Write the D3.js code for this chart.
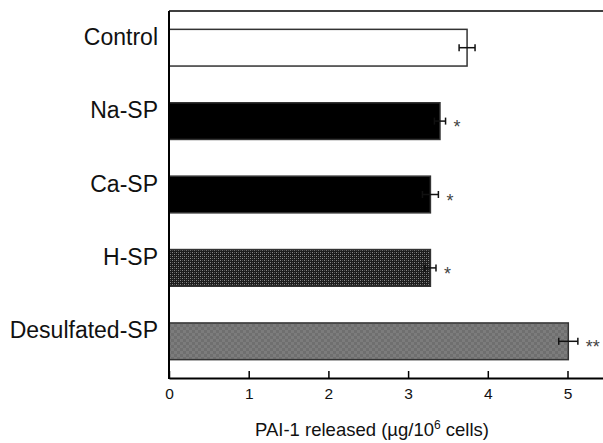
<!DOCTYPE html>
<html>
<head>
<meta charset="utf-8">
<script src="https://cdn.jsdelivr.net/npm/d3@7"></script>
<style>
  html, body { margin: 0; padding: 0; background: #fff; }
  svg { display: block; font-family: "Liberation Sans", Arial, sans-serif; }
</style>
</head>
<body>
<div id="chart"></div>
<script>
const categories = ["Control", "Na-SP", "Ca-SP", "H-SP", "Desulfated-SP"];
const means = [3.74, 3.40, 3.28, 3.28, 5.01];
const errors = [0.10, 0.07, 0.10, 0.07, 0.12];
const marks = ["", "*", "*", "*", "**"];
const xTicks = [0, 1, 2, 3, 4, 5];

const width = 603, height = 443;
const plot = { left: 169, right: 603, top: 11, bottom: 378 };

const svg = d3.select("#chart").append("svg")
  .attr("width", width)
  .attr("height", height);

// fill patterns for the two hatched bars
const defs = svg.append("defs");
const dark = defs.append("pattern")
  .attr("id", "darkDots")
  .attr("patternUnits", "userSpaceOnUse")
  .attr("width", 4).attr("height", 4);
dark.append("rect").attr("width", 4).attr("height", 4).attr("fill", "#1c1c1c");
dark.append("rect").attr("x", 0).attr("y", 0).attr("width", 1).attr("height", 1).attr("fill", "#8a8a8a");
dark.append("rect").attr("x", 2).attr("y", 2).attr("width", 1).attr("height", 1).attr("fill", "#8a8a8a");
dark.append("rect").attr("x", 2).attr("y", 0).attr("width", 1).attr("height", 1).attr("fill", "#555");
dark.append("rect").attr("x", 0).attr("y", 2).attr("width", 1).attr("height", 1).attr("fill", "#555");

const grey = defs.append("pattern")
  .attr("id", "greyCheck")
  .attr("patternUnits", "userSpaceOnUse")
  .attr("width", 6).attr("height", 6);
grey.append("rect").attr("width", 6).attr("height", 6).attr("fill", "#7c7c7c");
grey.append("rect").attr("width", 3).attr("height", 3).attr("fill", "#6f6f6f");
grey.append("rect").attr("x", 3).attr("y", 3).attr("width", 3).attr("height", 3).attr("fill", "#6f6f6f");

const fills = ["#ffffff", "#000000", "#000000", "url(#darkDots)", "url(#greyCheck)"];

const x = d3.scaleLinear()
  .domain([0, (plot.right - plot.left) / 79.7])
  .range([plot.left, plot.right]);

const y = d3.scaleBand()
  .domain(categories)
  .range([plot.top, plot.bottom])
  .paddingInner(0.5)
  .paddingOuter(0.25);

const rows = categories.map((c, i) => ({
  cat: c, value: means[i], err: errors[i], mark: marks[i], fill: fills[i]
}));

// bars
svg.append("g")
  .selectAll("rect")
  .data(rows)
  .join("rect")
  .attr("x", x(0))
  .attr("y", d => y(d.cat))
  .attr("width", d => x(d.value) - x(0))
  .attr("height", y.bandwidth())
  .attr("fill", d => d.fill)
  .attr("stroke", "#333")
  .attr("stroke-width", 1.5);

// error bars
const eb = svg.append("g").attr("stroke", "#111").attr("stroke-width", 1.5);
rows.forEach(d => {
  const cy = y(d.cat) + y.bandwidth() / 2;
  eb.append("line")
    .attr("x1", x(d.value - d.err)).attr("x2", x(d.value + d.err))
    .attr("y1", cy).attr("y2", cy);
  [d.value - d.err, d.value + d.err].forEach(v => {
    eb.append("line")
      .attr("x1", x(v)).attr("x2", x(v))
      .attr("y1", cy - 3.5).attr("y2", cy + 3.5);
  });
});

// significance stars
svg.append("g")
  .selectAll("text")
  .data(rows.filter(d => d.mark))
  .join("text")
  .attr("x", d => x(d.value + d.err) + 8)
  .attr("y", d => y(d.cat) + y.bandwidth() / 2 + 12)
  .attr("font-size", 18)
  .attr("fill", "#444")
  .text(d => d.mark);

// category labels sit a little above the bar centres
svg.append("g")
  .selectAll("text")
  .data(categories)
  .join("text")
  .attr("x", 158)
  .attr("y", d => y(d) + y.bandwidth() / 2 - 3)
  .attr("text-anchor", "end")
  .attr("font-size", 23)
  .attr("fill", "#111")
  .text(d => d);

// x axis: ticks point up into the plot
const xAxis = svg.append("g")
  .attr("transform", `translate(0,${plot.bottom})`)
  .call(d3.axisBottom(x).tickValues(xTicks).tickFormat(d3.format("d"))
    .tickSize(-7).tickSizeOuter(0).tickPadding(10));
xAxis.select(".domain").attr("stroke", "#000").attr("stroke-width", 2);
xAxis.selectAll(".tick line").attr("stroke", "#000").attr("stroke-width", 1.5);
xAxis.selectAll(".tick text")
  .attr("font-size", 15.5)
  .attr("fill", "#111")
  .attr("font-family", "Liberation Sans, Arial, sans-serif");

// left axis line and top frame line
svg.append("line")
  .attr("x1", plot.left).attr("x2", plot.left)
  .attr("y1", plot.top).attr("y2", plot.bottom + 1)
  .attr("stroke", "#000").attr("stroke-width", 2);
svg.append("line")
  .attr("x1", plot.left).attr("x2", plot.right)
  .attr("y1", plot.top).attr("y2", plot.top)
  .attr("stroke", "#000").attr("stroke-width", 1.5);

// axis title
const title = svg.append("text")
  .attr("x", 372)
  .attr("y", 436)
  .attr("text-anchor", "middle")
  .attr("font-size", 18.5)
  .attr("fill", "#111");
title.append("tspan").text("PAI-1 released (µg/10");
title.append("tspan").attr("font-size", 12).attr("dy", -7).text("6");
title.append("tspan").attr("dy", 7).text(" cells)");
</script>
</body>
</html>
